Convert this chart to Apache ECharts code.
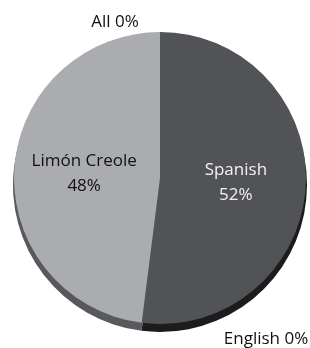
<!DOCTYPE html>
<html>
<head>
<meta charset="utf-8">
<script src="https://cdn.jsdelivr.net/npm/echarts@6/dist/echarts.min.js"></script>
<style>
  html, body { margin: 0; padding: 0; background: #fff; }
  #main { width: 310px; height: 348px; }
</style>
</head>
<body>
<div id="main"></div>
<script>
// languages, clockwise from 12 o'clock
const names = ['Spanish', 'English', 'Limón Creole', 'All'];
const values = [52, 0, 48, 0];

const faceColors = ['#525356', '#525356', '#aaacaf', '#aaacaf'];
const rimColors = ['#1c1c1d', '#1c1c1d', '#58595c', '#58595c'];

const chart = echarts.init(document.getElementById('main'));

const faceData = names.map((n, i) => {
  const item = { name: n, value: values[i], itemStyle: { color: faceColors[i] } };
  if (values[i] === 0) {
    item.label = { position: 'outside', formatter: '{b} {d}%', color: '#111' };
  } else if (n === 'Spanish') {
    item.label = { color: '#f2f2f2' };
  }
  return item;
});

const rimData = names.map((n, i) => ({
  name: n, value: values[i], itemStyle: { color: rimColors[i] }
}));

// where the two empty slices put their text
const zeroLabelPos = {
  1: { x: 266, y: 339 },
  3: { x: 115, y: 22 }
};

chart.setOption({
  animation: false,
  series: [
    // dark rim under the pie, gives the tilted look
    {
      type: 'pie',
      silent: true,
      center: [160, 185],
      radius: 147,
      startAngle: 90,
      clockwise: true,
      label: { show: false },
      labelLine: { show: false },
      itemStyle: { borderWidth: 0 },
      data: rimData
    },
    {
      type: 'pie',
      center: [160, 178],
      radius: 146,
      startAngle: 90,
      clockwise: true,
      avoidLabelOverlap: false,
      itemStyle: { borderWidth: 0 },
      label: {
        show: true,
        position: 'inside',
        formatter: '{b}\n{d}%',
        fontFamily: 'Open Sans',
        fontSize: 17,
        lineHeight: 25,
        color: '#111'
      },
      labelLine: { show: false },
      labelLayout: params => {
        const p = zeroLabelPos[params.dataIndex];
        if (!p) return {};
        return { x: p.x, y: p.y, align: 'center', verticalAlign: 'middle' };
      },
      data: faceData
    }
  ]
});
</script>
</body>
</html>
